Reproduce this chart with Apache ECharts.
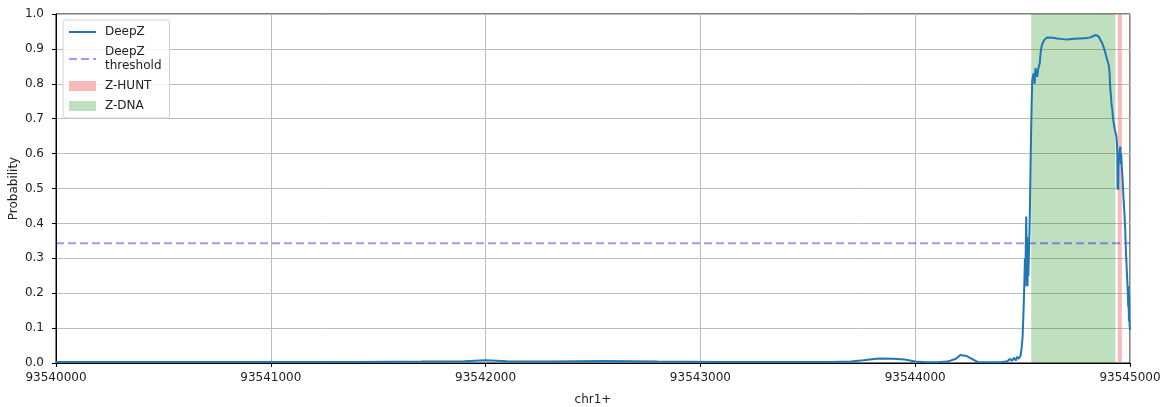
<!DOCTYPE html>
<html>
<head>
<meta charset="utf-8">
<script src="https://cdn.jsdelivr.net/npm/echarts@6/dist/echarts.min.js"></script>
<style>
html,body{margin:0;padding:0;background:#fff;}
#chart{width:1167px;height:407px;}
</style>
</head>
<body>
<div id="chart"></div>
<script>
// genomic positions (chr1+) and DeepZ probability
const positions = [
  93540000, 93540200, 93540500, 93540800, 93541100, 93541400, 93541700, 93541900,
  93542000, 93542100, 93542300, 93542550, 93542800, 93543100, 93543400, 93543600,
  93543700, 93543760, 93543830, 93543900, 93543950, 93544000, 93544050, 93544100,
  93544150, 93544190, 93544210, 93544240, 93544270, 93544290, 93544350, 93544400,
  93544430, 93544440, 93544450, 93544460, 93544468, 93544475, 93544482, 93544490,
  93544495, 93544500, 93544505, 93544509, 93544511, 93544513, 93544515, 93544517,
  93544519, 93544521, 93544523, 93544525, 93544527, 93544530, 93544533, 93544536,
  93544539, 93544542, 93544545, 93544548, 93544552, 93544556, 93544560, 93544565,
  93544568, 93544572, 93544576, 93544580, 93544584, 93544588, 93544594, 93544600,
  93544614, 93544640, 93544661, 93544690, 93544708, 93544740, 93544770, 93544800,
  93544816, 93544830, 93544840, 93544848, 93544855, 93544863, 93544871, 93544880,
  93544886, 93544893, 93544898, 93544902, 93544905, 93544907, 93544909, 93544911,
  93544914, 93544917, 93544921, 93544925, 93544929, 93544933, 93544937, 93544939,
  93544941, 93544942, 93544943, 93544945, 93544947, 93544949, 93544952, 93544955,
  93544957, 93544959, 93544962, 93544966, 93544970, 93544974, 93544978, 93544981,
  93544984, 93544987, 93544990, 93544992, 93544993, 93544995, 93544996, 93544998,
  93545000
];
const probability = [
  0.003, 0.003, 0.003, 0.003, 0.003, 0.003, 0.004, 0.005,
  0.008, 0.005, 0.004, 0.006, 0.004, 0.003, 0.003, 0.003,
  0.004, 0.008, 0.013, 0.012, 0.010, 0.004, 0.002, 0.002,
  0.004, 0.012, 0.023, 0.020, 0.010, 0.003, 0.002, 0.002,
  0.005, 0.012, 0.006, 0.015, 0.007, 0.018, 0.012, 0.020,
  0.040, 0.075, 0.160, 0.250, 0.300, 0.220, 0.340, 0.420,
  0.280, 0.360, 0.220, 0.340, 0.250, 0.330, 0.400, 0.520,
  0.640, 0.740, 0.810, 0.820, 0.830, 0.800, 0.845, 0.830,
  0.820, 0.840, 0.850, 0.860, 0.890, 0.906, 0.918, 0.925,
  0.933, 0.932, 0.930, 0.928, 0.927, 0.929, 0.930, 0.931,
  0.933, 0.937, 0.940, 0.938, 0.935, 0.925, 0.916, 0.900,
  0.887, 0.870, 0.860, 0.850, 0.830, 0.800, 0.780, 0.770,
  0.740, 0.730, 0.700, 0.685, 0.670, 0.660, 0.648, 0.630,
  0.600, 0.500, 0.550, 0.496, 0.600, 0.580, 0.610, 0.620,
  0.570, 0.600, 0.560, 0.520, 0.470, 0.430, 0.380, 0.320,
  0.280, 0.240, 0.200, 0.160, 0.220, 0.120, 0.200, 0.110,
  0.094
];
const threshold = 0.343;
const zHunt = [93544943, 93544962];
const zDna = [93544540, 93544932];
const xMin = 93540000, xMax = 93545000, xStep = 1000;
const yTicks = [0, 0.1, 0.2, 0.3, 0.4, 0.5, 0.6, 0.7, 0.8, 0.9, 1.0];

const FONT = 'DejaVu Sans';
const chart = echarts.init(document.getElementById('chart'), null, {renderer: 'canvas'});
const lineData = positions.map((p, i) => [p, probability[i]]);

chart.setOption({
  animation: false,
  backgroundColor: '#fff',
  textStyle: {fontFamily: FONT},
  grid: {left: 56, right: 37, top: 14, bottom: 44, containLabel: false, outerBoundsMode: 'none',
         show: true, borderColor: '#000', borderWidth: 1, backgroundColor: 'transparent'},
  legend: {
    orient: 'vertical', left: 63, top: 20,
    itemWidth: 27, itemHeight: 10, itemGap: 6,
    padding: [5, 8, 5, 5],
    backgroundColor: 'rgba(255,255,255,0.85)', borderColor: '#d0d0d0', borderWidth: 1, borderRadius: 3,
    textStyle: {fontFamily: FONT, fontSize: 12, color: '#222', lineHeight: 14, padding: [0, 0, 0, 4]},
    data: [
      {name: 'DeepZ', itemStyle: {opacity: 0}},
      {name: 'DeepZ\nthreshold', itemStyle: {opacity: 0}},
      {name: 'Z-HUNT', icon: 'rect', itemStyle: {color: 'rgba(240,120,120,0.5)'}},
      {name: 'Z-DNA', icon: 'rect', itemStyle: {color: 'rgba(0,128,0,0.25)'}}
    ]
  },
  xAxis: {
    type: 'value', min: xMin, max: xMax, interval: xStep,
    name: 'chr1+', nameLocation: 'middle', nameGap: 31, nameMoveOverlap: false,
    nameTextStyle: {fontFamily: FONT, fontSize: 12, color: '#222'},
    axisLine: {show: true, lineStyle: {color: '#000', width: 1}},
    axisTick: {show: true, length: 4, lineStyle: {color: '#000'}},
    axisLabel: {fontFamily: FONT, fontSize: 12, color: '#222', margin: 9, formatter: v => String(v)},
    splitLine: {show: true, lineStyle: {color: '#bdbdbd', width: 1}}
  },
  yAxis: {
    type: 'value', min: yTicks[0], max: yTicks[yTicks.length - 1], interval: 0.1,
    name: 'Probability', nameLocation: 'middle', nameGap: 36, nameMoveOverlap: false,
    nameTextStyle: {fontFamily: FONT, fontSize: 12, color: '#222'},
    axisLine: {show: true, lineStyle: {color: '#000', width: 1}},
    axisTick: {show: true, length: 4, lineStyle: {color: '#000'}},
    axisLabel: {fontFamily: FONT, fontSize: 12, color: '#222', margin: 12, formatter: v => v.toFixed(1)},
    splitLine: {show: true, lineStyle: {color: '#bdbdbd', width: 1}}
  },
  series: [
    {
      name: 'Z-DNA', type: 'line', data: [], z: 1, color: 'rgba(0,128,0,0.25)',
      markArea: {silent: true, itemStyle: {color: 'rgba(0,128,0,0.25)'}, data: [[{xAxis: zDna[0]}, {xAxis: zDna[1]}]]}
    },
    {
      name: 'Z-HUNT', type: 'line', data: [], z: 1, color: 'rgba(240,120,120,0.5)',
      markArea: {silent: true, itemStyle: {color: 'rgba(240,120,120,0.5)'}, data: [[{xAxis: zHunt[0]}, {xAxis: zHunt[1]}]]}
    },
    {
      name: 'DeepZ', type: 'line', data: lineData, z: 5, symbol: 'none',
      color: '#1f77b4',
      lineStyle: {color: '#1f77b4', width: 2}
    },
    {
      name: 'DeepZ\nthreshold', type: 'line', z: 4, symbol: 'none',
      data: [[xMin, threshold], [xMax, threshold]],
      color: 'rgba(0,0,255,0.4)',
      lineStyle: {color: 'rgba(0,0,255,0.4)', width: 2, type: [8, 4]}
    }
  ]
});
</script>
</body>
</html>
